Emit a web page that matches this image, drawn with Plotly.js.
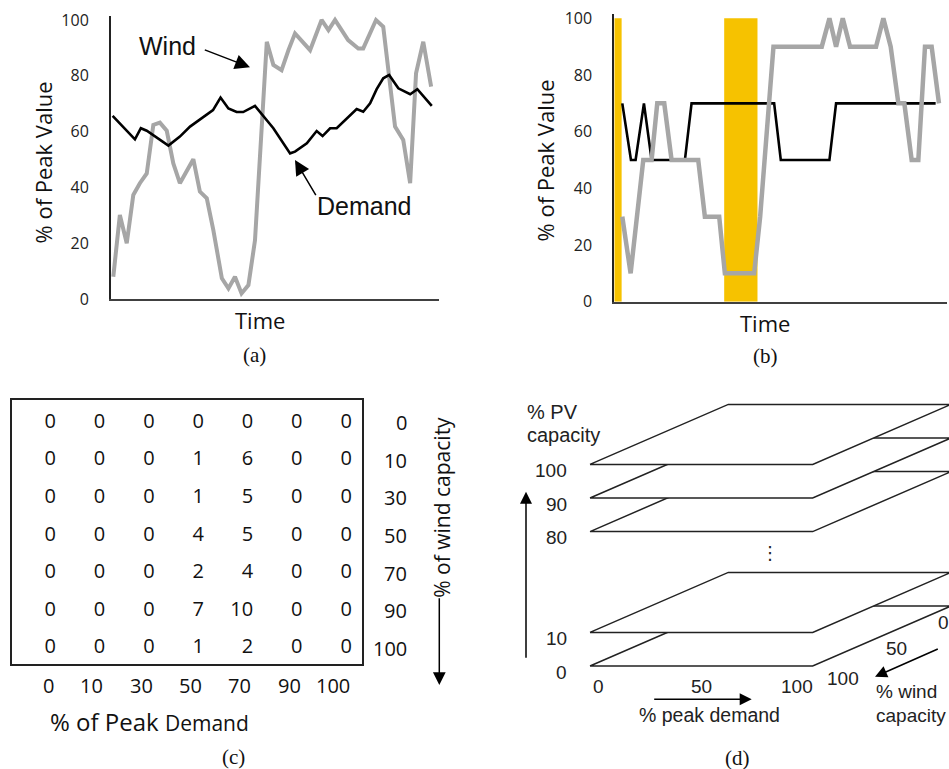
<!DOCTYPE html>
<html><head><meta charset="utf-8">
<script src="https://cdn.plot.ly/plotly-3.0.1.min.js"></script>
<style>html,body{margin:0;padding:0;background:#fff}#chart{width:949px;height:769px}</style>
</head><body><div id="chart"></div>
<script>
// ---------- Panel (a): wind and demand over time (% of peak) ----------
const timeWindA = [0.7,2.7,4.8,6.8,8.8,10.9,12.9,14.9,17,19,21,23.1,25.1,27.1,29.2,31.2,33.8,35.8,37.8,39.8,41.9,43.9,45.9,47.5,49.5,52,54.1,56.1,60.7,64.2,66.3,68.3,72.3,75.4,76.9,80.8,83,86.6,89.1,91.2,93,95.2,97.6];
const windA = [8,30.1,20,37.3,41.5,45,62.4,63.2,60.3,48.6,41.5,46.2,50.1,38.5,36.1,24.7,7.4,3.8,8,2,5,21,64,92.2,83.9,82,89.2,95.2,89.2,100,96.4,100,92.8,89.8,89.8,100,97.6,61.8,57,41.5,80.9,92.2,76.1];
const timeDemandA = [0.5,7.3,9.1,10.9,17.5,21,24.1,27.1,31.1,33.4,35.8,38.3,40.3,43.9,49.5,54.6,56.1,59.7,62.7,64.5,66.8,68.8,71.9,74.9,76.9,79,81,83,84.8,87.6,91.2,93.4,97.8];
const demandA = [65.6,57.2,61.2,60.3,55,58.2,61.8,64.2,67.7,72.2,68.3,67,67,69.2,61.2,52.2,52.8,55.8,60.2,58.4,61.2,61.2,64.8,68.1,67.1,70.1,75.2,79.1,80.3,75.5,73.4,75.2,69.2];

// ---------- Panel (b): discretised wind and demand ----------
const timeDemandB = [2.4,5.0,6.4,8.9,11.2,21.2,23.2,48,50,64.6,66.6,96.5];
const demandB = [70,50,50,70,50,50,70,70,50,50,70,70];
const timeWindB = [2.4,4.9,8.7,11.2,12.9,15,17.2,25.2,27.2,31.5,33.2,42,43.8,47.8,62.3,64.6,66.6,68.6,70.8,78.6,80.8,83,85.3,87.1,89.3,91.3,93.3,95.3,97.5];
const windB = [30,10,50,50,70,70,50,50,30,30,10,10,30,90,90,100,90,100,90,90,100,90,70,70,50,50,90,90,70];
const bandStart = [0, 33];
const bandEnd = [2.2, 43];

const yTicks = [0,20,40,60,80,100];

// ---------- Panel (c): occurrence counts ----------
const demandLevels = ['0','10','30','50','70','90','100'];
const windLevels = ['0','10','30','50','70','90','100'];
const counts = [
  [0,0,0,0,0,0,0],
  [0,0,0,1,6,0,0],
  [0,0,0,1,5,0,0],
  [0,0,0,4,5,0,0],
  [0,0,0,2,4,0,0],
  [0,0,0,7,10,0,0],
  [0,0,0,1,2,0,0]
];

// ---------- Panel (d): stacked PV planes ----------
const pvLevels = [0,10,80,90,100];
const dTicks = [0,50,100];
const wTicks = [100,50,0];

// ---------- helpers ----------
const W = 949, H = 769;
const P = x => x / W, Q = y => 1 - y / H;
const GRAY = '#a6a6a6';
const SANS = 'Open Sans, sans-serif';
const ARIAL = 'Liberation Sans, Arial, sans-serif';
const SERIF = 'Liberation Serif, Times New Roman, serif';

// panel (c) grid geometry (pixel box) and axis ranges
const C_X0 = 12.3, C_X1 = 361.7, C_Y0 = 400, C_Y1 = 664.3;
const C_XR = [-0.886, 6.2], C_YR = [6.426, -0.604];
const cPx = v => C_X0 + (v - C_XR[0]) * (C_X1 - C_X0) / (C_XR[1] - C_XR[0]);
const cPy = v => C_Y0 + (v - C_YR[1]) * (C_Y1 - C_Y0) / (C_YR[0] - C_YR[1]);

// panel d projection (oblique view), units = pixels from the front-left corner
const D_OX = 590, D_OY = 666;
const DX = 2.227, WX = 1.383, WY = 0.6, SLOT = 33.6;
const slotOf = lv => lv <= 10 ? lv / 10 : lv / 10 - 4; // broken vertical axis
const projX = (d, w) => d * DX + (100 - w) * WX;
const projY = (s, w) => s * SLOT + (100 - w) * WY;

const traces = [];
// (a)
traces.push({x: timeWindA, y: windA, xaxis: 'x', yaxis: 'y', mode: 'lines', line: {color: GRAY, width: 4}, hoverinfo: 'skip'});
traces.push({x: timeDemandA, y: demandA, xaxis: 'x', yaxis: 'y', mode: 'lines', line: {color: '#000', width: 2.6}, hoverinfo: 'skip'});
// (b)
traces.push({x: timeDemandB, y: demandB, xaxis: 'x2', yaxis: 'y2', mode: 'lines', line: {color: '#000', width: 2.6}, hoverinfo: 'skip'});
traces.push({x: timeWindB, y: windB, xaxis: 'x2', yaxis: 'y2', mode: 'lines', line: {color: GRAY, width: 4.5}, hoverinfo: 'skip'});

// (c) cells
const cx = [], cy = [], ct = [];
counts.forEach((row, r) => row.forEach((v, c) => { cx.push(c); cy.push(r); ct.push(String(v)); }));
const cellFont = {family: SANS, size: 20, color: '#111'};
traces.push({x: cx, y: cy, text: ct, mode: 'text', textposition: 'middle left', textfont: cellFont, xaxis: 'x3', yaxis: 'y3', hoverinfo: 'skip'});

// (d) planes, lowest first so higher planes cover lower ones
pvLevels.forEach(lv => {
  const s = slotOf(lv);
  const corners = [[0,100],[100,100],[100,0],[0,0],[0,100]];
  traces.push({
    x: corners.map(c => projX(c[0], c[1])),
    y: corners.map(c => projY(s, c[1])),
    xaxis: 'x4', yaxis: 'y4', mode: 'lines', fill: 'toself', fillcolor: '#fff',
    line: {color: '#222', width: 1.5}, hoverinfo: 'skip'
  });
});

const hidden = {showgrid: false, zeroline: false, showticklabels: false, ticks: '', fixedrange: true};

const shapes = bandStart.map((b, i) => ({
  type: 'rect', xref: 'x2', yref: 'y2', x0: b, x1: bandEnd[i], y0: 0, y1: 100,
  fillcolor: '#F6C200', line: {width: 0}, layer: 'below'
}));

const ann = [];
const txt = (text, x, y, font, extra) => ann.push(Object.assign({text, x: P(x), y: Q(y), xref: 'paper', yref: 'paper', showarrow: false, xanchor: 'center', yanchor: 'middle', font}, extra || {}));
const arrow = (xt, yt, ax, ay, size) => ann.push({text: '', x: P(xt), y: Q(yt), xref: 'paper', yref: 'paper', showarrow: true, ax, ay, arrowhead: 2, arrowsize: size || 1.8, arrowwidth: 1.5, arrowcolor: '#000', standoff: 0, startstandoff: 0});

// (c) outer labels: wind capacity (right of the box) and peak demand (below it)
windLevels.forEach((t, r) => txt(t, cPx(7.16), cPy(r), cellFont, {xanchor: 'right'}));
demandLevels.forEach((t, c) => txt(t, cPx(c), cPy(7), cellFont, {xanchor: 'right'}));

const titleFont = {family: SANS, size: 22, color: '#111'};
const capFont = {family: SERIF, size: 21, color: '#111'};
// (a)
txt('% of Peak Value', 42, 162.5, titleFont, {textangle: -90});
txt('Time', 260, 320, titleFont);
txt('Wind', 167.5, 45.8, {family: ARIAL, size: 25, color: '#111'});
txt('Demand', 364, 205.5, {family: ARIAL, size: 25, color: '#111'});
arrow(250, 67.3, -46.7, -18, 2);
arrow(295, 160, 21.7, 36.7, 2);
txt('(a)', 254.7, 355, capFont);
// (b)
txt('% of Peak Value', 544, 160.5, titleFont, {textangle: -90});
txt('Time', 765, 323, titleFont);
txt('(b)', 765, 356, capFont);
// (c)
txt('% of Peak <span style="font-size:21px">Demand</span>', 48, 721.7, {family: SANS, size: 24, color: '#111'}, {xanchor: 'left'});
txt('% of wind capacity', 441.7, 507, {family: SANS, size: 21, color: '#111'}, {textangle: -90});
arrow(439.3, 685, 0, -88.3, 1.7);
txt('(c)', 233.3, 757, capFont);
// (d)
const dFont = {family: ARIAL, size: 19, color: '#222'};
pvLevels.forEach(lv => txt(String(lv), D_OX - 21, D_OY - projY(slotOf(lv), 100) + 6, dFont, {xanchor: 'right'}));
const dNudge = {0: 8, 50: 0, 100: -16};
dTicks.forEach(d => txt(String(d), D_OX + projX(d, 100) + dNudge[d], D_OY + 20, dFont));
const wNudge = {100: [30, 12], 50: [15, 12], 0: [-8, 16]};
wTicks.forEach(w => txt(String(w), D_OX + projX(100, w) + wNudge[w][0], D_OY - projY(0, w) + wNudge[w][1], dFont));
txt('⋮', D_OX + 180, D_OY - 114, {family: 'DejaVu Sans', size: 18, color: '#222'});
txt('% PV', 525, 411.7, {family: ARIAL, size: 20, color: '#222'}, {xanchor: 'left'});
txt('capacity', 525, 435, {family: ARIAL, size: 20, color: '#222'}, {xanchor: 'left'});
arrow(526, 491.7, 0, 167.6, 1.6);
arrow(751.7, 699.3, -99, 0, 1.6);
txt('% peak demand', 709, 715, {family: ARIAL, size: 19.5, color: '#222'});
arrow(875, 676.7, 64.3, -28.4, 1.6);
txt('% wind', 874, 691.7, {family: ARIAL, size: 19, color: '#222'}, {xanchor: 'left'});
txt('capacity', 874, 715, {family: ARIAL, size: 19, color: '#222'}, {xanchor: 'left'});
txt('(d)', 737.5, 758, capFont);

const tickFont = {family: SANS, size: 16, color: '#222'};
const layout = {
  width: W, height: H, margin: {l: 0, r: 0, t: 0, b: 0},
  paper_bgcolor: '#fff', plot_bgcolor: 'rgba(0,0,0,0)', showlegend: false,
  xaxis: Object.assign({}, hidden, {domain: [P(111), P(439)], range: [0, 100], showline: true, linecolor: '#404040', linewidth: 2, anchor: 'y'}),
  yaxis: Object.assign({}, hidden, {domain: [Q(299), Q(15.8)], range: [0, 101.5], showline: true, linecolor: '#222', linewidth: 2, showticklabels: true, tickvals: yTicks, ticktext: yTicks.map(String), tickfont: tickFont, ticklabelstandoff: 17, anchor: 'x'}),
  xaxis2: Object.assign({}, hidden, {domain: [P(614.3), P(947.3)], range: [0, 100], showline: true, linecolor: '#404040', linewidth: 2, anchor: 'y2'}),
  yaxis2: Object.assign({}, hidden, {domain: [Q(301.7), Q(14.1)], range: [0, 101.5], showline: true, linecolor: '#222', linewidth: 2, showticklabels: true, tickvals: yTicks, ticktext: yTicks.map(String), tickfont: tickFont, ticklabelstandoff: 17, anchor: 'x2'}),
  xaxis3: Object.assign({}, hidden, {domain: [P(C_X0), P(C_X1)], range: C_XR, showline: true, mirror: true, linecolor: '#222', linewidth: 2, anchor: 'y3'}),
  yaxis3: Object.assign({}, hidden, {domain: [Q(C_Y1), Q(C_Y0)], range: C_YR, showline: true, mirror: true, linecolor: '#222', linewidth: 2, anchor: 'x3'}),
  xaxis4: Object.assign({}, hidden, {domain: [P(470), 1], range: [470 - D_OX, W - D_OX], anchor: 'y4'}),
  yaxis4: Object.assign({}, hidden, {domain: [0, Q(389)], range: [D_OY - H, D_OY - 389], anchor: 'x4'}),
  shapes, annotations: ann
};

Plotly.newPlot('chart', traces, layout, {displayModeBar: false, staticPlot: true});
</script></body></html>
